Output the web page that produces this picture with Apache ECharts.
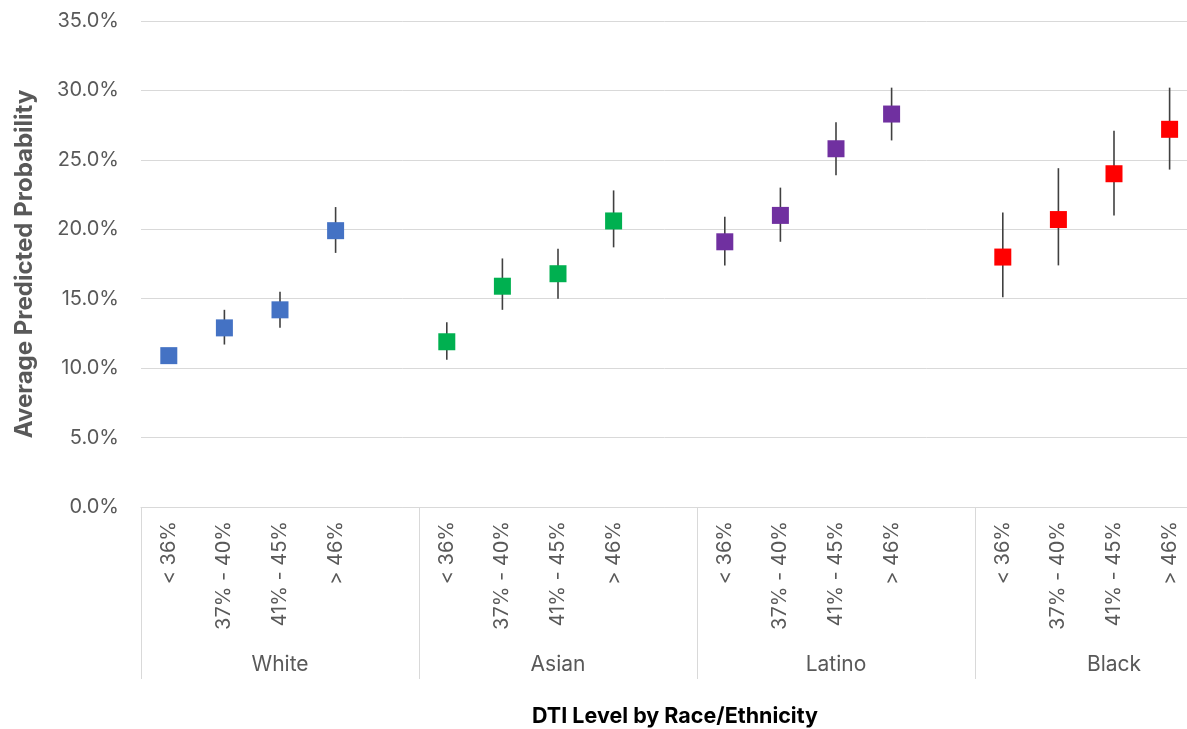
<!DOCTYPE html>
<html>
<head>
<meta charset="utf-8">
<script src="https://cdn.jsdelivr.net/npm/echarts@6/dist/echarts.min.js"></script>
<style>
html,body{margin:0;padding:0;background:#fff;}
#chart{width:1187px;height:729px;}
</style>
</head>
<body>
<div id="chart"></div>
<script>
// ---- Data ----
const groups = ['White', 'Asian', 'Latino', 'Black'];
const levels = ['< 36%', '37% - 40%', '41% - 45%', '> 46%'];
const groupColors = ['#4472C4', '#00B050', '#7030A0', '#FF0000'];

const whiteMean  = [10.9, 12.9, 14.2, 19.9];
const whiteLow   = [10.5, 11.7, 12.9, 18.3];
const whiteHigh  = [11.3, 14.2, 15.5, 21.6];

const asianMean  = [11.9, 15.9, 16.8, 20.6];
const asianLow   = [10.6, 14.2, 15.0, 18.7];
const asianHigh  = [13.3, 17.9, 18.6, 22.8];

const latinoMean = [19.1, 21.0, 25.8, 28.3];
const latinoLow  = [17.4, 19.1, 23.9, 26.4];
const latinoHigh = [20.9, 23.0, 27.7, 30.2];

const blackMean  = [18.0, 20.7, 24.0, 27.2];
const blackLow   = [15.1, 17.4, 21.0, 24.3];
const blackHigh  = [21.2, 24.4, 27.1, 30.2];

const yTicks = [0, 5, 10, 15, 20, 25, 30, 35];

const means = [whiteMean, asianMean, latinoMean, blackMean];
const lows  = [whiteLow, asianLow, latinoLow, blackLow];
const highs = [whiteHigh, asianHigh, latinoHigh, blackHigh];

// category slots: 4 levels + 1 blank slot per group
const slotsPerGroup = levels.length + 1;
const slotLabels = [];
groups.forEach(() => { levels.forEach(l => slotLabels.push(l)); slotLabels.push(''); });

const font = 'Inter, "Noto Sans", sans-serif';
const textColor = '#595959';

const series = [];
// error bars
groups.forEach((g, gi) => {
  const data = levels.map((l, li) => [gi * slotsPerGroup + li, lows[gi][li], highs[gi][li]]);
  series.push({
    type: 'custom',
    name: g + ' range',
    z: 1,
    clip: false,
    renderItem: function (params, api) {
      const x = api.value(0);
      const p1 = api.coord([x, api.value(1)]);
      const p2 = api.coord([x, api.value(2)]);
      return {
        type: 'line',
        shape: { x1: p1[0], y1: p1[1], x2: p2[0], y2: p2[1] },
        style: { stroke: '#404040', lineWidth: 1.6 }
      };
    },
    data: data
  });
});
// markers
groups.forEach((g, gi) => {
  series.push({
    type: 'scatter',
    name: g,
    z: 3,
    symbol: 'rect',
    symbolSize: 17,
    itemStyle: { color: groupColors[gi], opacity: 1 },
    data: levels.map((l, li) => [gi * slotsPerGroup + li, means[gi][li]])
  });
});

const chart = echarts.init(document.getElementById('chart'), null, { renderer: 'canvas' });
chart.setOption({
  animation: false,
  backgroundColor: '#ffffff',
  textStyle: { fontFamily: font },
  grid: { left: 141, right: -66, top: 21, bottom: 222, containLabel: false, outerBoundsMode: 'none' },
  xAxis: [
    {
      type: 'category',
      data: slotLabels,
      boundaryGap: true,
      axisLine: { show: true, lineStyle: { color: '#d9d9d9', width: 1 } },
      axisTick: { show: false },
      splitLine: { show: false },
      axisLabel: {
        interval: 0, rotate: 90, fontSize: 20, color: textColor,
        fontFamily: font, margin: 14, hideOverlap: false
      }
    },
    {
      type: 'category',
      data: groups,
      position: 'bottom',
      boundaryGap: true,
      axisLine: { show: false },
      axisTick: { show: true, length: 172, lineStyle: { color: '#d9d9d9', width: 1 } },
      axisLabel: { interval: 0, fontSize: 21, color: textColor, fontFamily: font, margin: 147 },
      splitLine: { show: false }
    }
  ],
  yAxis: {
    type: 'value',
    min: yTicks[0],
    max: yTicks[yTicks.length - 1],
    interval: 5,
    axisLine: { show: false },
    axisTick: { show: false },
    splitLine: { show: true, lineStyle: { color: '#d9d9d9', width: 1 } },
    axisLabel: {
      fontSize: 20, color: textColor, fontFamily: font, margin: 22,
      formatter: v => v.toFixed(1) + '%'
    },
    name: 'Average Predicted Probability',
    nameLocation: 'middle',
    nameRotate: 90,
    nameGap: 104,
    nameTextStyle: { fontSize: 24, fontWeight: 'bold', color: textColor, fontFamily: font }
  },
  graphic: [{
    type: 'text',
    x: 675, y: 717,
    style: {
      text: 'DTI Level by Race/Ethnicity',
      textAlign: 'center', textVerticalAlign: 'middle',
      fontSize: 21.5, fontWeight: 'bold', fill: '#000000', fontFamily: font
    }
  }],
  series: series
});
</script>
</body>
</html>
